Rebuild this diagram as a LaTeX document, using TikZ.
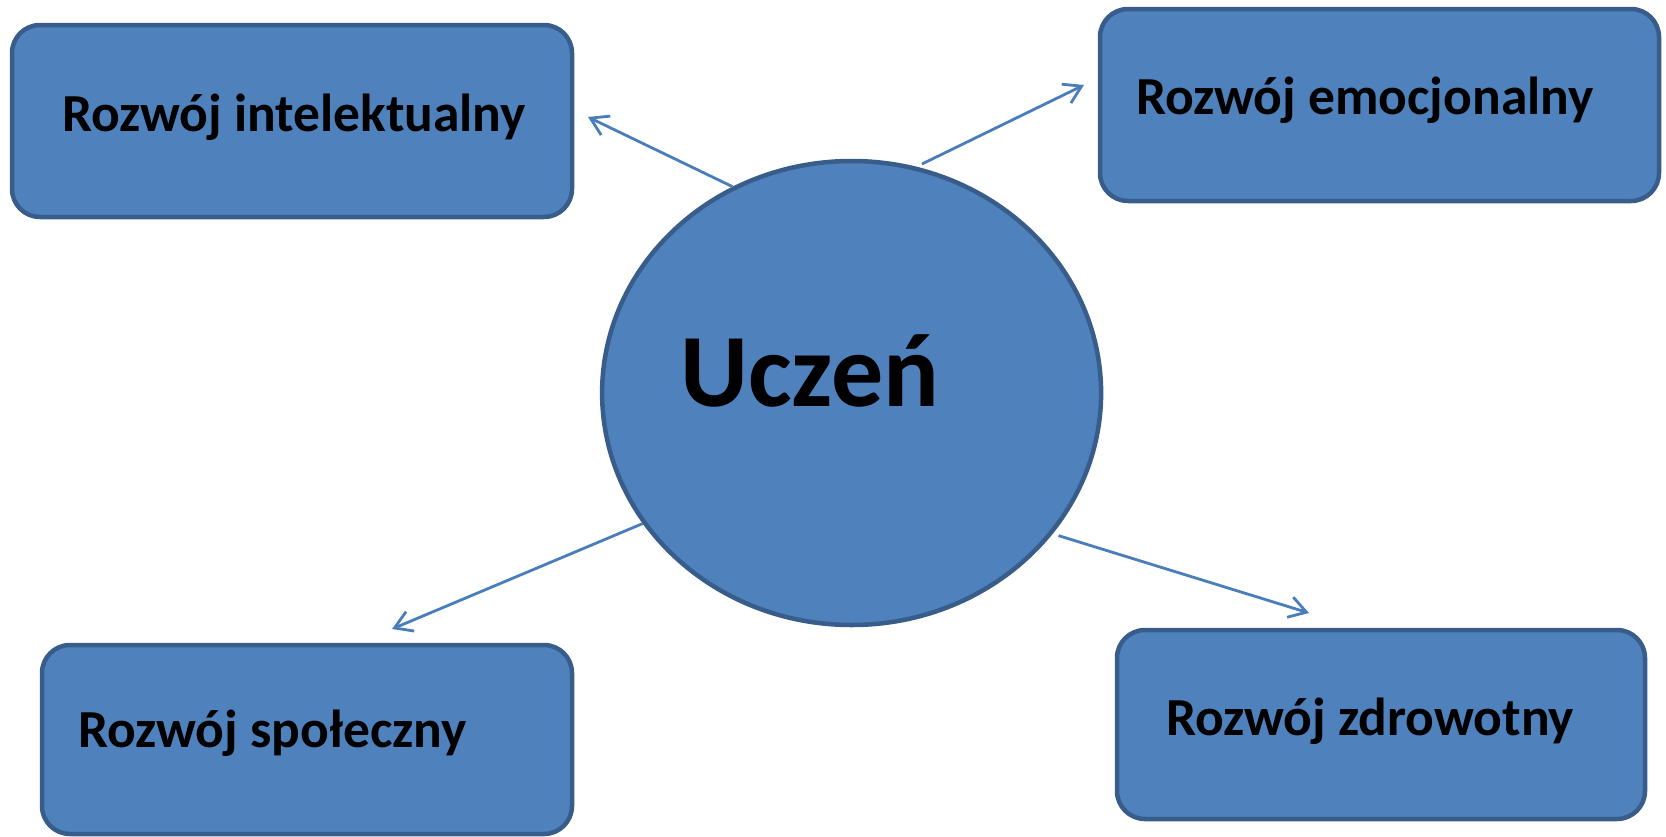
\documentclass[tikz,border=0pt]{standalone}
\usepackage{fontspec}
\setmainfont{Carlito}
\usetikzlibrary{arrows.meta,shapes.geometric}
\definecolor{boxfill}{HTML}{4F81BD}
\definecolor{boxline}{HTML}{385D8A}
\definecolor{arrline}{HTML}{4A7EBB}
\tikzset{
  area/.style={rectangle, rounded corners=28pt, fill=boxfill, draw=boxline, line width=4.5pt, inner sep=0pt},
  lbl/.style={inner sep=0pt, anchor=base west, font=\bfseries\fontsize{53.5}{60}\selectfont},
  arr/.style={draw=arrline, line width=2.8pt, -{Straight Barb[length=17pt,width=21pt]}}
}
\begin{document}
\begin{tikzpicture}[x=1pt,y=-1pt]
\useasboundingbox (0,0) rectangle (1666,836);
% centre
\node[ellipse, fill=boxfill, draw=boxline, line width=4.5pt, minimum width=499pt, minimum height=464pt, inner sep=0pt] (uczen) at (851.6,393){};
\node[inner sep=0pt, anchor=base west, font=\bfseries\fontsize{104}{112}\selectfont] (uczent) at (680,406){Uczeń};
% four areas
\node[area, minimum width=560pt, minimum height=192pt] (intel) at (292,121){};
\node[lbl] (intelt) at (62,131){Rozwój intelektualny};
\node[area, minimum width=559pt, minimum height=192pt] (emoc) at (1379.5,105){};
\node[lbl] (emoct) at (1136,114){Rozwój emocjonalny};
\node[area, minimum width=530pt, minimum height=189pt] (spol) at (307,739.5){};
\node[lbl] (spolt) at (78,747){Rozwój społeczny};
\node[area, minimum width=528pt, minimum height=189pt] (zdrow) at (1381,724.5){};
\node[lbl] (zdrowt) at (1166,735){Rozwój zdrowotny};
% arrow tips
\coordinate (tipA) at (588,117);
\coordinate (tipB) at (1084,85);
\coordinate (tipC) at (392,629);
\coordinate (tipD) at (1309,613);
\draw[arr] (uczen.120.5) -- (tipA);
\draw[arr, shorten <=6pt] (uczen.74) -- (tipB);
\draw[arr] (uczen.212.3) -- (tipC);
\draw[arr, shorten <=6pt] (uczen.-35.8) -- (tipD);
\end{tikzpicture}
\end{document}
